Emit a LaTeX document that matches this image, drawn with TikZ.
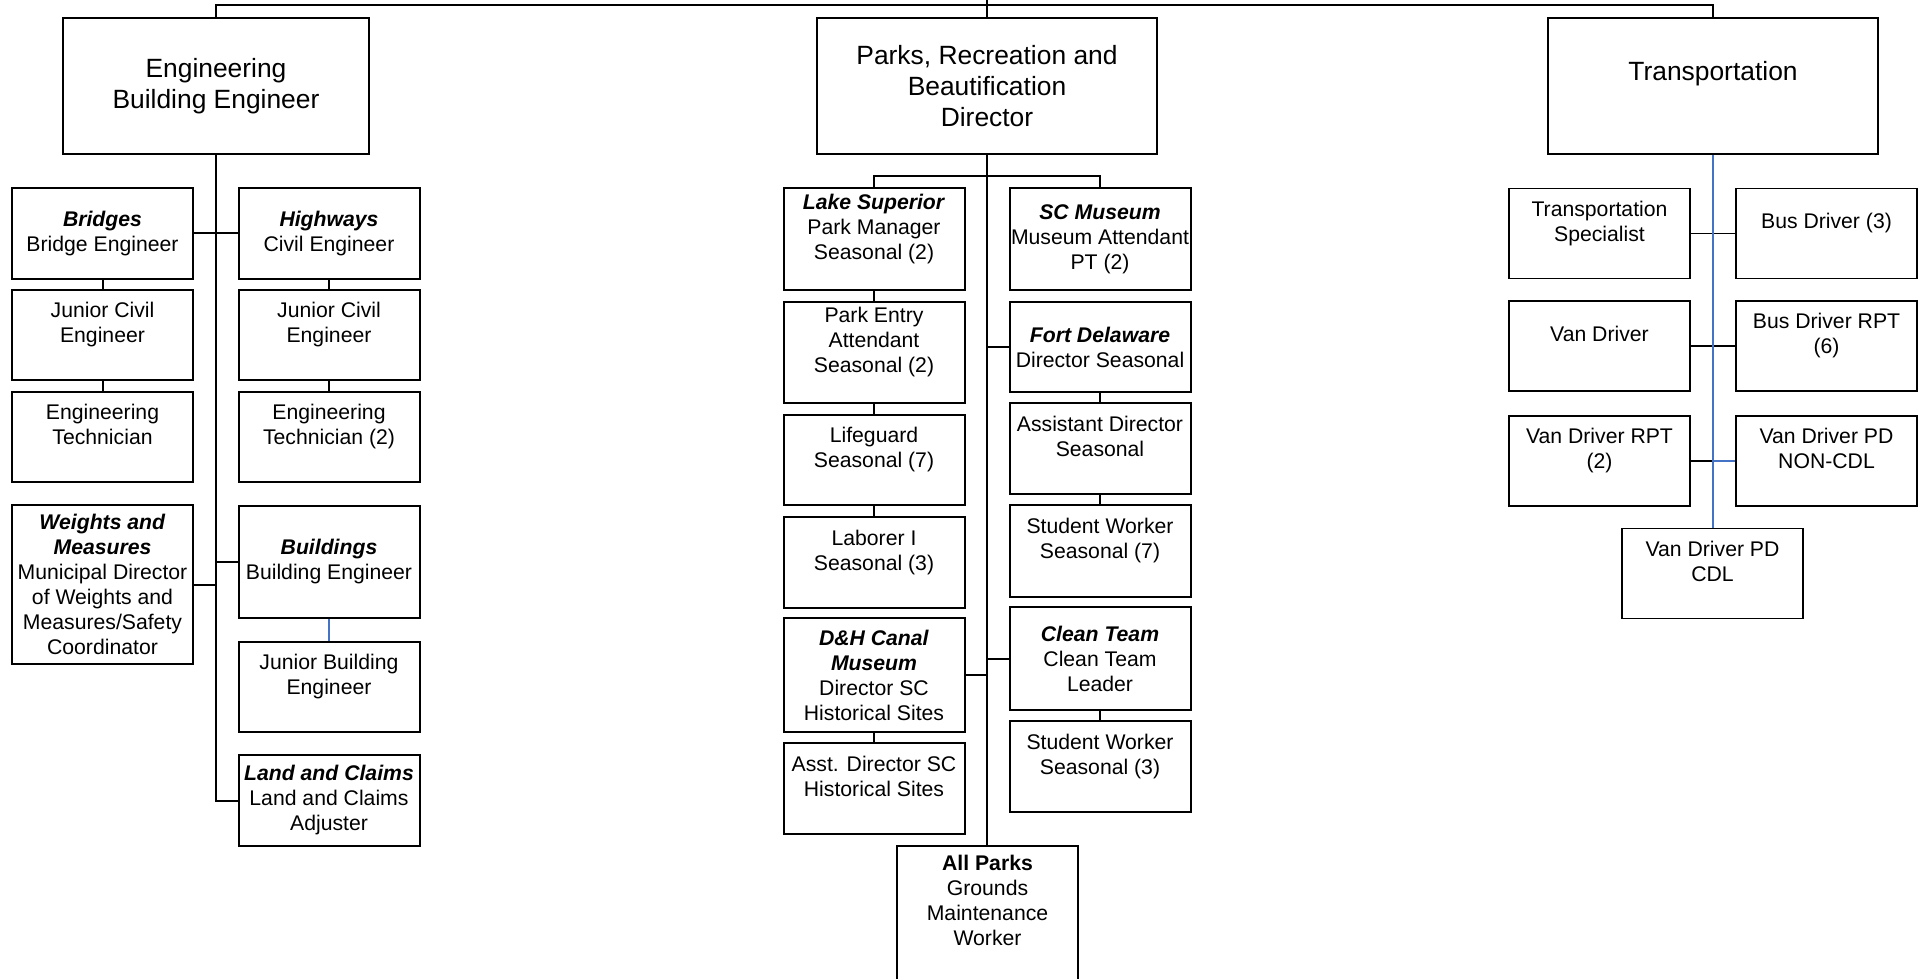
\documentclass[tikz,border=0pt]{standalone}
\usepackage{fontspec}
\setmainfont{Liberation Sans}
\definecolor{linkblue}{RGB}{68,114,196}

\begin{document}
\begin{tikzpicture}[x=0.5pt, y=-0.5pt, line width=1pt,
    box/.style={draw, rectangle, inner xsep=0.5pt, inner ysep=0pt, align=center,
      minimum width=90.5pt, font=\fontsize{10.6}{12.5}\selectfont},
    head/.style={box, font=\fontsize{13.2}{15.5}\selectfont},
    busbox/.style={box, line width=0.8pt, minimum height=45pt},
    blueline/.style={linkblue, line width=0.7pt}]
  \clip (0,0) rectangle (1919,979);

  % top of the chart
  \coordinate (top) at (987,0);
  \node[head, minimum width=153pt, minimum height=68pt] (eng) at (216,86) {Engineering\\Building Engineer};
  \node[head, minimum width=170pt, minimum height=68pt] (parks) at (987,86) {Parks, Recreation and\\Beautification\\Director};
  \node[head, minimum width=165pt, minimum height=68pt] (trans) at (1713,86) {Transportation\\~};

  % engineering
  \node[box, minimum height=45.5pt] (bridges) at (102.5,233.5) {\textbf{\textit{Bridges}}\\Bridge Engineer};
  \node[box, minimum height=45.5pt] (highways) at (329,233.5) {\textbf{\textit{Highways}}\\Civil Engineer};
  \node[box, minimum height=45pt] (jce1) at (102.5,335) {Junior Civil\\Engineer\\~};
  \node[box, minimum height=45pt] (jce2) at (329,335) {Junior Civil\\Engineer\\~};
  \node[box, minimum height=45pt] (tech1) at (102.5,437) {Engineering\\Technician\\~};
  \node[box, minimum height=45pt] (tech2) at (329,437) {Engineering\\Technician (2)\\~};
  \node[box, minimum height=79.5pt] (weights) at (102.5,584.5) {\textbf{\textit{Weights and}}\\\textbf{\textit{Measures}}\\Municipal Director\\of Weights and\\Measures/Safety\\Coordinator};
  \node[box, minimum height=56pt] (buildings) at (329,562) {\textbf{\textit{Buildings}}\\Building Engineer};
  \node[box, minimum height=45pt] (jbe) at (329,687) {Junior Building\\Engineer\\~};
  \node[box, minimum height=45.5pt] (land) at (329,800.5) {\textbf{\textit{Land and Claims}}\\Land and Claims\\Adjuster};

  % parks
  \node[box, minimum height=51pt] (lake) at (874,239) {\textbf{\textit{Lake Superior}}\\Park Manager\\Seasonal (2)\\~};
  \node[box, minimum height=50.5pt] (entry) at (874,352.5) {Park Entry\\Attendant\\Seasonal (2)\\~};
  \node[box, minimum height=45pt] (lifeguard) at (874,460) {Lifeguard\\Seasonal (7)\\~};
  \node[box, minimum height=45.5pt] (laborer) at (874,562.5) {Laborer I\\Seasonal (3)\\~};
  \node[box, minimum height=57pt] (canal) at (874,675) {\textbf{\textit{D\&H Canal}}\\\textbf{\textit{Museum}}\\Director SC\\Historical Sites};
  \node[box, minimum height=45.5pt] (asstsc) at (874,788.5) {Asst. Director SC\\Historical Sites\\~};
  \node[box, minimum height=51pt] (scm) at (1100,239) {\textbf{\textit{SC Museum}}\\Museum Attendant\\PT (2)};
  \node[box, minimum height=45pt] (fort) at (1100,347) {\textbf{\textit{Fort Delaware}}\\Director Seasonal};
  \node[box, minimum height=45.5pt] (asst) at (1100,448.5) {Assistant Director\\Seasonal\\~};
  \node[box, minimum height=46pt] (student7) at (1100,551) {Student Worker\\Seasonal (7)\\~};
  \node[box, minimum height=51.5pt] (clean) at (1100,658.5) {\textbf{\textit{Clean Team}}\\Clean Team\\Leader};
  \node[box, minimum height=45.5pt] (student3) at (1100,766.5) {Student Worker\\Seasonal (3)\\~};
  \node[box, minimum height=79pt] (allparks) at (987.5,925) {\textbf{All Parks}\\Grounds\\Maintenance\\Worker\\~\\~};

  % transportation
  \node[busbox] (spec) at (1599.5,233.5) {Transportation\\Specialist\\~};
  \node[busbox] (bus3) at (1826.5,233.5) {Bus Driver (3)\\~};
  \node[busbox] (van) at (1599.5,346) {Van Driver\\~};
  \node[busbox] (busrpt) at (1826.5,346) {Bus Driver RPT\\(6)\\~};
  \node[busbox] (vanrpt) at (1599.5,461) {Van Driver RPT\\(2)\\~};
  \node[busbox] (vanpdn) at (1826.5,461) {Van Driver PD\\NON-CDL\\~};
  \node[busbox] (vanpdc) at (1712.5,573.5) {Van Driver PD\\CDL\\~};

  % lines from the top
  \draw (eng.north) -- ++(0,-12) -| (trans.north);
  \draw (top) -- (parks.north);

  % engineering lines
  \draw (eng.south) -- (eng.south |- land.west) -- (land.west);
  \draw (bridges) -- (highways);
  \draw (weights.east) -- (weights.east -| eng.south);
  \draw (buildings.west) -- (buildings.west -| eng.south);
  \path (bridges) edge (jce1) (jce1) edge (tech1) (highways) edge (jce2) (jce2) edge (tech2);
  \draw[blueline] (buildings) -- (jbe);

  % parks lines
  \draw (parks.south) -- (parks.south |- allparks.north);
  \draw (lake.north) -- ++(0,-11) -| (scm.north);
  \path (lake) edge (entry) (entry) edge (lifeguard) (lifeguard) edge (laborer) (canal) edge (asstsc);
  \path (fort) edge (asst) (asst) edge (student7) (clean) edge (student3);
  \draw (fort.west) -- (fort.west -| parks.south);
  \draw (clean.west) -- (clean.west -| parks.south);
  \draw (canal.east) -- (canal.east -| parks.south);

  % transportation lines
  \draw[line width=0.8pt] (spec) -- (bus3);
  \draw[line width=0.8pt] (van) -- (busrpt);
  \draw[line width=0.8pt] (vanrpt.east) -- (vanrpt.east -| trans.south);
  \draw[blueline] (vanrpt.east -| trans.south) -- (vanpdn.west);
  \draw[blueline] (trans.south) -- (trans.south |- vanpdc.north);
\end{tikzpicture}
\end{document}
